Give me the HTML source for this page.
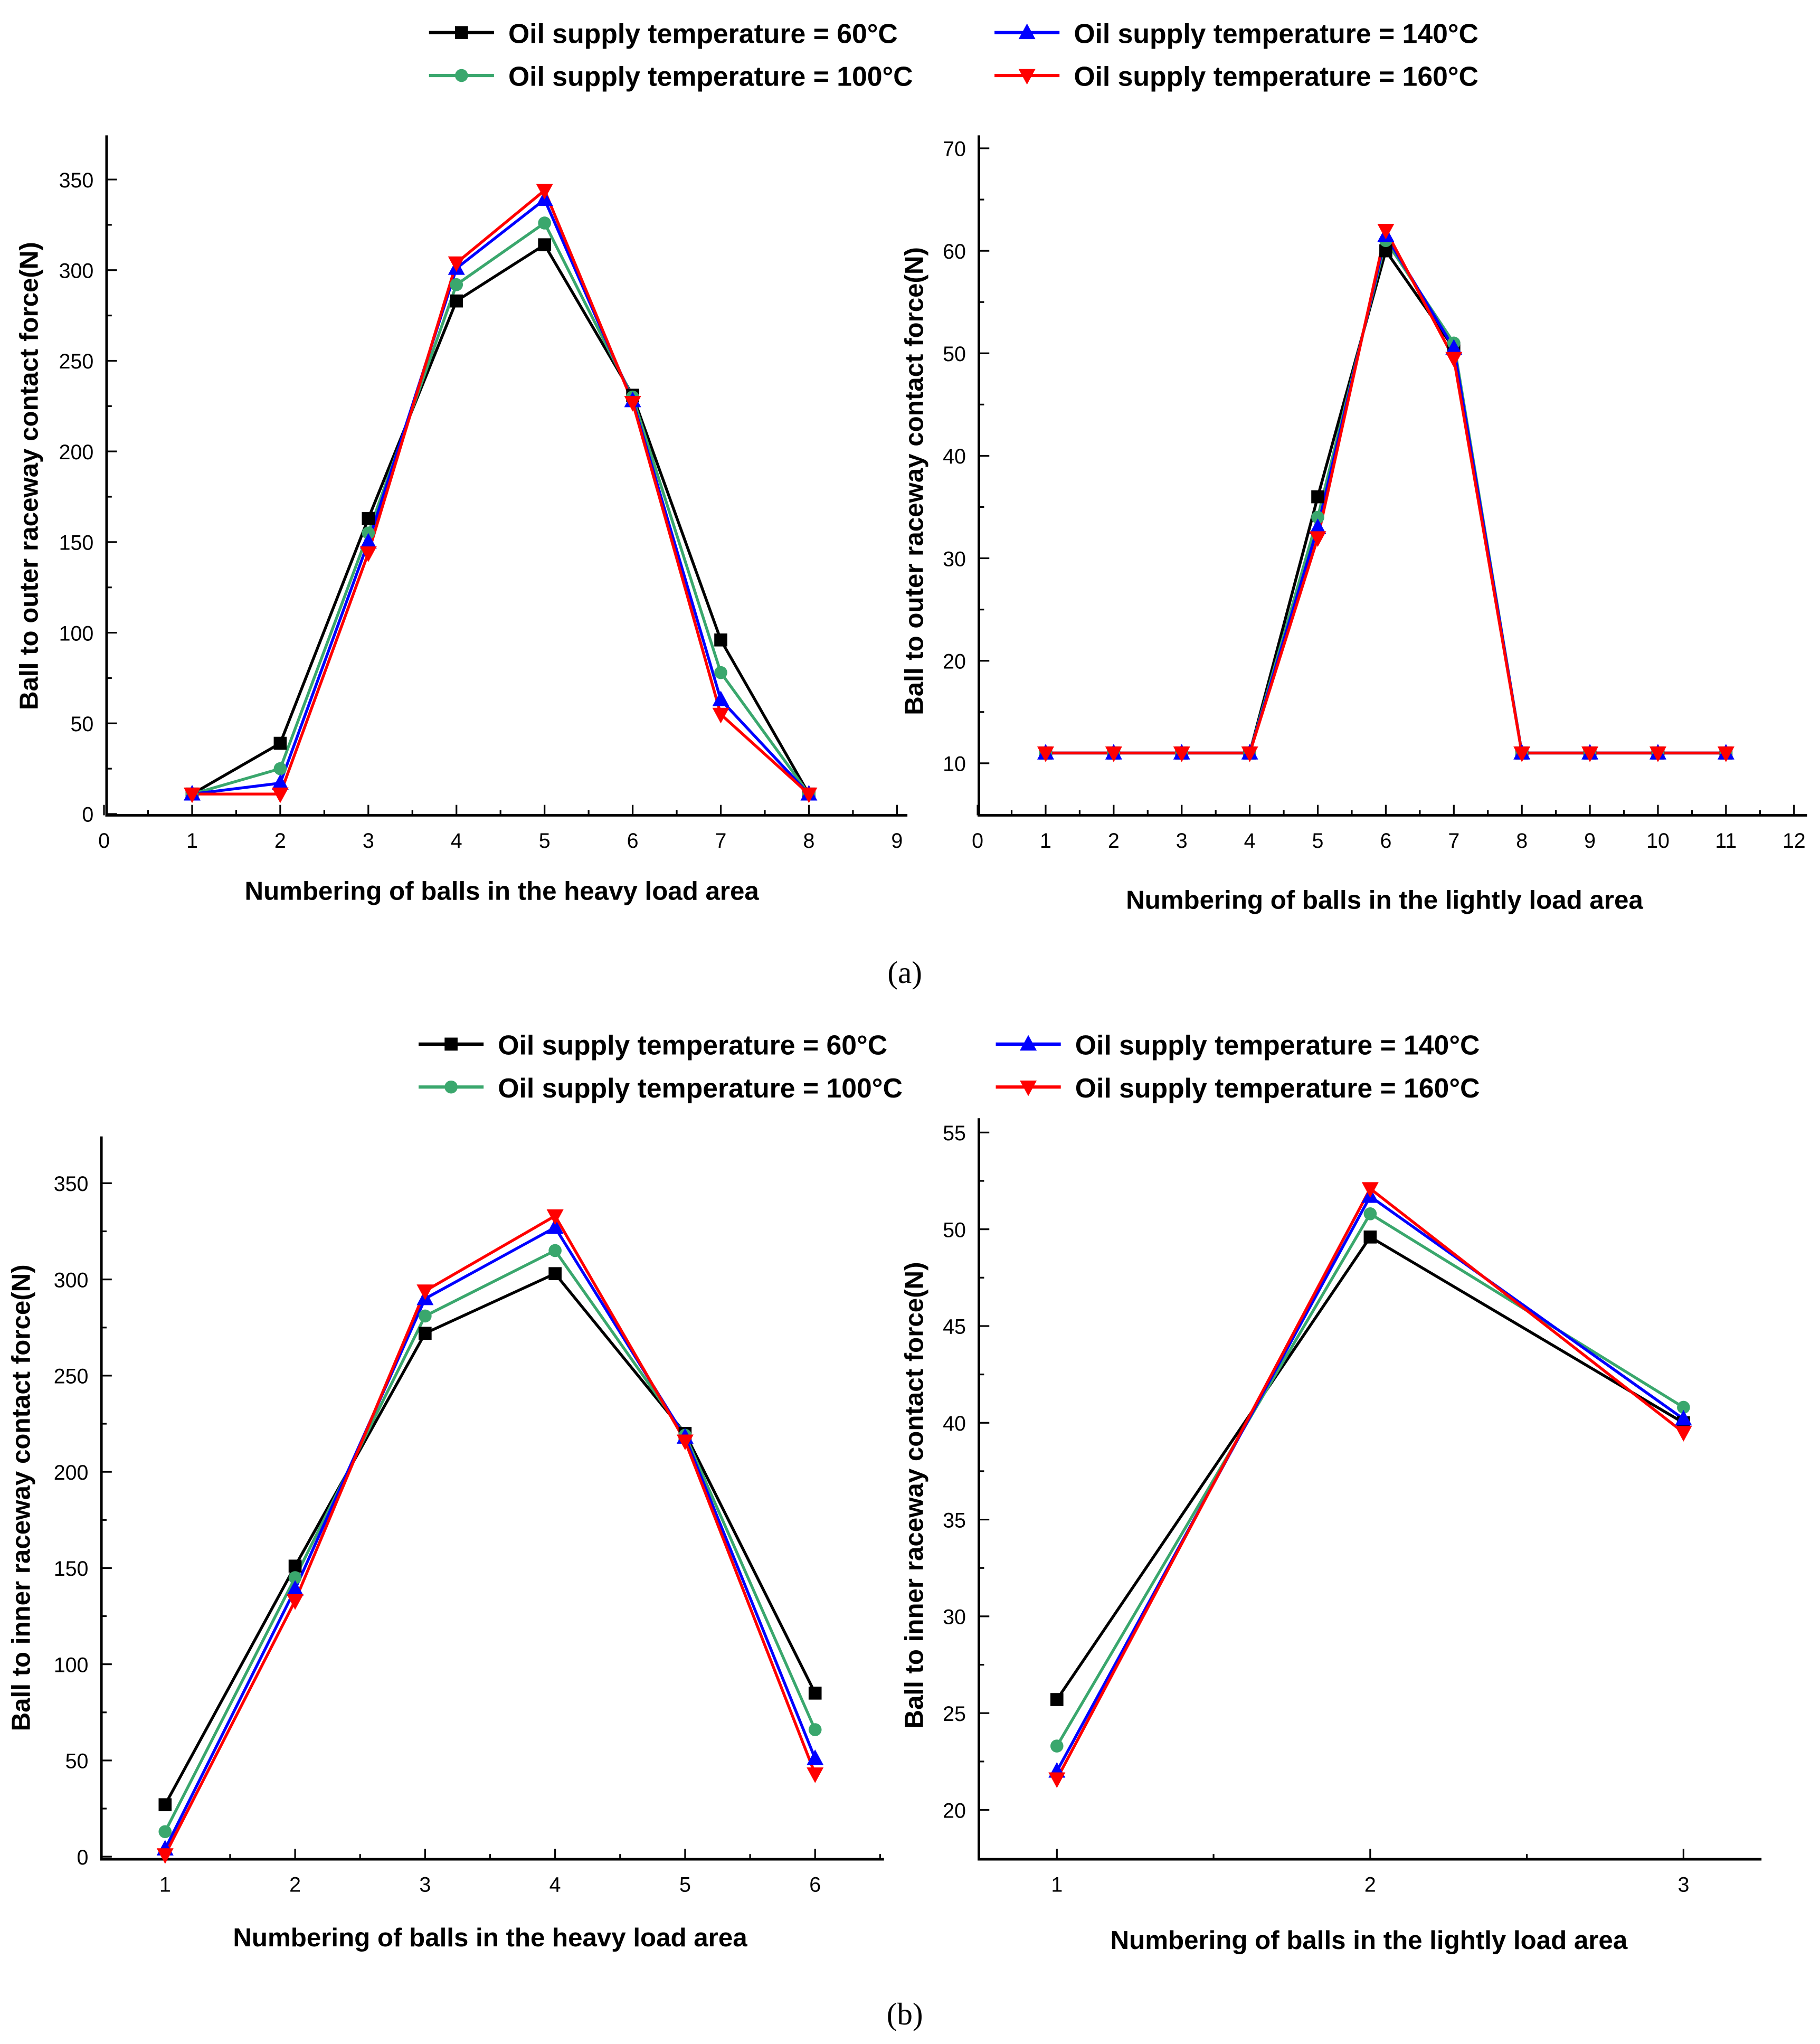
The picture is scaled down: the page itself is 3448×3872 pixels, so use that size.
<!DOCTYPE html>
<html><head><meta charset="utf-8"><style>
html,body{margin:0;padding:0;background:#fff}
svg{display:block}
text{font-family:"Liberation Sans",sans-serif}
.tk{font-size:16px;fill:#000}
.tt{font-size:20px;font-weight:bold;fill:#000}
.lg{font-size:21px;font-weight:bold;fill:#000}
</style></head><body>
<svg id="fig" width="3448" height="3872" viewBox="0 0 1400 1572" xmlns="http://www.w3.org/2000/svg">
<g id="legA"></g>
<g id="legB"></g>
<text x="696" y="756" text-anchor="middle" style="font-family:'Liberation Serif',serif;font-size:24px">(a)</text>
<text x="696" y="1557" text-anchor="middle" style="font-family:'Liberation Serif',serif;font-size:24px">(b)</text>
</svg>
<script>
const seriesNames=["Oil supply temperature = 60°C","Oil supply temperature = 100°C","Oil supply temperature = 140°C","Oil supply temperature = 160°C"];
const colors=["#000000","#3aa76d","#0000ff","#ff0000"];
const aLeftX=[1,2,3,4,5,6,7,8];
const aLeft60=[11,39,163,283,314,231,96,11];
const aLeft100=[11,25,155,292,326,230,78,11];
const aLeft140=[11,17,150,301,339,228,63,11];
const aLeft160=[11,11,144,304,344,227,55,11];
const aLeftXTicks=[0,1,2,3,4,5,6,7,8,9];
const aLeftYTicks=[0,50,100,150,200,250,300,350];
const aRightX=[1,2,3,4,5,6,7,8,9,10,11];
const aRight60=[11,11,11,11,36,60,50.5,11,11,11,11];
const aRight100=[11,11,11,11,34,61,51,11,11,11,11];
const aRight140=[11,11,11,11,33,61.5,50.5,11,11,11,11];
const aRight160=[11,11,11,11,32,62,49.5,11,11,11,11];
const aRightXTicks=[0,1,2,3,4,5,6,7,8,9,10,11,12];
const aRightYTicks=[10,20,30,40,50,60,70];
const bLeftX=[1,2,3,4,5,6];
const bLeft60=[27,151,272,303,220,85];
const bLeft100=[13,145,281,315,219,66];
const bLeft140=[4,139,290,327,218,51];
const bLeft160=[1,133,294,333,216,43];
const bLeftXTicks=[1,2,3,4,5,6];
const bLeftYTicks=[0,50,100,150,200,250,300,350];
const bRightX=[1,2,3];
const bRight60=[25.7,49.6,40];
const bRight100=[23.3,50.8,40.8];
const bRight140=[22,51.7,40.2];
const bRight160=[21.6,52.1,39.5];
const bRightXTicks=[1,2,3];
const bRightYTicks=[20,25,30,35,40,45,50,55];

const NS="http://www.w3.org/2000/svg";
const fig=document.getElementById('fig');
function mk(tag,attrs,parent){const e=document.createElementNS(NS,tag);for(const k in attrs)e.setAttribute(k,attrs[k]);(parent||fig).appendChild(e);return e;}
function marker(g,i,x,y){
  let m;
  if(i===0)m=mk('rect',{x:x-5,y:y-5,width:10,height:10,fill:colors[0]},g);
  else if(i===1)m=mk('circle',{cx:x,cy:y,r:5,fill:colors[1]},g);
  else if(i===2)m=mk('polygon',{points:`${x},${y-7} ${x+6.5},${y+5} ${x-6.5},${y+5}`,fill:colors[2]},g);
  else m=mk('polygon',{points:`${x},${y+7} ${x+6.5},${y-5} ${x-6.5},${y-5}`,fill:colors[3]},g);
  
  
}
function panel(p){
  const g=mk('g',{});
  
  
  const sx=v=>p.x0+(v-p.xv0)*(p.x1-p.x0)/(p.xv1-p.xv0);
  const sy=v=>p.y0+(v-p.yv0)*(p.y1-p.y0)/(p.yv1-p.yv0);
  const ax=mk('path',{d:`M${p.axL},${p.axT}V${p.axB}H${p.axR}`,stroke:'#000','stroke-width':2,fill:'none'},g);
  
  
  const xs=p.xt[1]-p.xt[0], ys=p.yt[1]-p.yt[0];
  p.xt.forEach((v,k)=>{
    const x=sx(v);
    mk('line',{x1:x,y1:p.axB,x2:x,y2:p.axB-8,stroke:'#000','stroke-width':1.3},g);
    const xm=sx(v+xs/2);
    if(xm<p.axR-2) mk('line',{x1:xm,y1:p.axB,x2:xm,y2:p.axB-4,stroke:'#000','stroke-width':1.3},g);
    if(k===0){const xm0=sx(v-xs/2); if(xm0>p.axL+2) mk('line',{x1:xm0,y1:p.axB,x2:xm0,y2:p.axB-4,stroke:'#000','stroke-width':1.3},g);}
    const t=mk('text',{x:x,y:p.axB+25,'text-anchor':'middle',class:'tk'},g);t.textContent=v;
    
    
  });
  p.yt.forEach(v=>{
    const y=sy(v);
    mk('line',{x1:p.axL,y1:y,x2:p.axL+8,y2:y,stroke:'#000','stroke-width':1.3},g);
    const ym=sy(v+ys/2);
    if(ym>p.axT+2) mk('line',{x1:p.axL,y1:ym,x2:p.axL+4,y2:ym,stroke:'#000','stroke-width':1.3},g);
    const t=mk('text',{x:p.axL-10,y:y+6,'text-anchor':'end',class:'tk'},g);t.textContent=v;
    
    
  });
  const xt=mk('text',{x:p.xtx,y:p.xty,'text-anchor':'middle',class:'tt'},g);xt.textContent=p.xtitle;
  
  
  const yt=mk('text',{x:0,y:0,'text-anchor':'middle',class:'tt',transform:`translate(${p.ytx},${p.yty}) rotate(-90)`},g);yt.textContent=p.ytitle;
  
  
  p.series.forEach((s,i)=>{
    const pts=s.map((v,j)=>sx(p.xs[j])+','+sy(v)).join(' ');
    const l=mk('polyline',{points:pts,fill:'none',stroke:colors[i],'stroke-width':2.2},g);
    
    
  });
  p.series.forEach((s,i)=>s.forEach((v,j)=>marker(g,i,sx(p.xs[j]),sy(v))));
}
panel({name:'chart-a-left',xs:aLeftX,series:[aLeft60,aLeft100,aLeft140,aLeft160],xt:aLeftXTicks,yt:aLeftYTicks,
 x0:80,xv0:0,x1:690,xv1:9,y0:626,yv0:0,y1:138,yv1:350,axL:82,axT:104,axB:627,axR:698,
 xtitle:'Numbering of balls in the heavy load area',xtx:386,xty:692,ytitle:'Ball to outer raceway contact force(N)',ytx:29,yty:366});
panel({name:'chart-a-right',xs:aRightX,series:[aRight60,aRight100,aRight140,aRight160],xt:aRightXTicks,yt:aRightYTicks,
 x0:752,xv0:0,x1:1380,xv1:12,y0:587,yv0:10,y1:114,yv1:70,axL:753,axT:104,axB:627,axR:1390,
 xtitle:'Numbering of balls in the lightly load area',xtx:1065,xty:699,ytitle:'Ball to outer raceway contact force(N)',ytx:710,yty:370});
panel({name:'chart-b-left',xs:bLeftX,series:[bLeft60,bLeft100,bLeft140,bLeft160],xt:bLeftXTicks,yt:bLeftYTicks,
 x0:127,xv0:1,x1:627,xv1:6,y0:1428,yv0:0,y1:910,yv1:350,axL:78,axT:874,axB:1430,axR:680,
 xtitle:'Numbering of balls in the heavy load area',xtx:377,xty:1497,ytitle:'Ball to inner raceway contact force(N)',ytx:23,yty:1152});
panel({name:'chart-b-right',xs:bRightX,series:[bRight60,bRight100,bRight140,bRight160],xt:bRightXTicks,yt:bRightYTicks,
 x0:813,xv0:1,x1:1295,xv1:3,y0:1392,yv0:20,y1:871,yv1:55,axL:753,axT:860,axB:1430,axR:1355,
 xtitle:'Numbering of balls in the lightly load area',xtx:1053,xty:1499,ytitle:'Ball to inner raceway contact force(N)',ytx:710,yty:1150});
function legend(id,rows){
  const g=document.getElementById(id);
  rows.forEach(r=>{
    const e=mk('g',{},g);
    
    
    mk('line',{x1:r[1],y1:r[2],x2:r[1]+50,y2:r[2],stroke:colors[r[0]],'stroke-width':2.5},e);
    marker(e,r[0],r[1]+25,r[2]);
    const t=mk('text',{x:r[1]+61,y:r[2]+8,class:'lg'},e);t.textContent=seriesNames[r[0]];
  });
}
legend('legA',[[0,330,25],[1,330,58],[2,765,25],[3,765,58]]);
legend('legB',[[0,322,803],[1,322,836],[2,766,803],[3,766,836]]);
</script>
</body></html>
